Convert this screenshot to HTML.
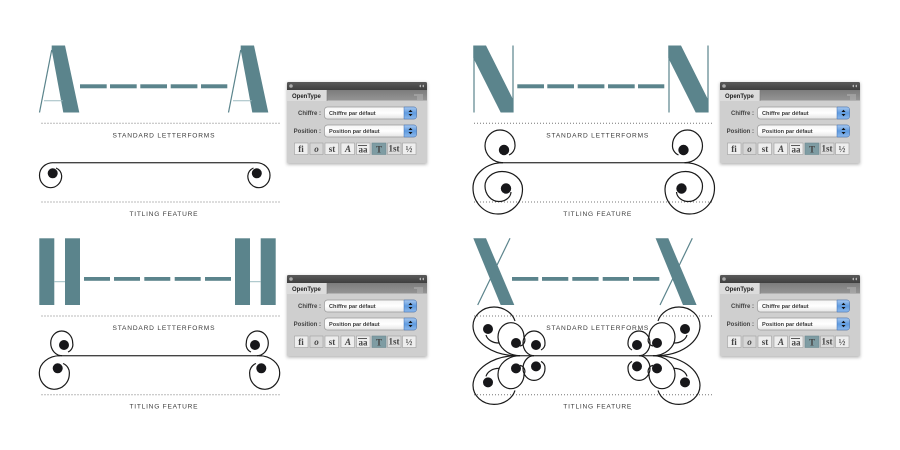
<!DOCTYPE html>
<html><head><meta charset="utf-8"><style>
html,body{margin:0;padding:0;background:#fff;width:900px;height:450px;overflow:hidden}
svg{display:block}
text{font-family:"Liberation Sans",sans-serif}
.cap{font-size:6.6px;fill:#3c3c3c;text-anchor:middle}
.lb{font-size:6px;font-weight:bold;fill:#444;text-anchor:end}
.sel{font-size:5.6px;font-weight:bold;fill:#3a3a3a}
.ic{font-family:"Liberation Serif",serif;font-size:9px;font-weight:bold;fill:#444;text-anchor:middle}
.lt{fill:#5b848c}
.th{stroke:#5b848c;stroke-width:1.2;fill:none}
.br{stroke:#9dbcc1;stroke-width:1;fill:none}
.dot{stroke:#777;stroke-width:1;stroke-dasharray:1 2;fill:none}
.s{stroke:#1a1a1a;stroke-width:1.2;fill:none}
.d{fill:#17171a}
.ln{stroke:#444;stroke-width:1.4;fill:none}
</style></head><body>
<svg width="900" height="450" viewBox="0 0 900 450" xmlns="http://www.w3.org/2000/svg">
<defs>
<linearGradient id="tb" x1="0" y1="0" x2="0" y2="1"><stop offset="0" stop-color="#5a5a5a"/><stop offset="1" stop-color="#3e3e3e"/></linearGradient>
<linearGradient id="tr" x1="0" y1="0" x2="0" y2="1"><stop offset="0" stop-color="#7c7c7c"/><stop offset="1" stop-color="#959595"/></linearGradient>
<linearGradient id="se" x1="0" y1="0" x2="0" y2="1"><stop offset="0" stop-color="#f4f4f4"/><stop offset=".5" stop-color="#fff"/><stop offset="1" stop-color="#e4e4e4"/></linearGradient>
<linearGradient id="bl" x1="0" y1="0" x2="0" y2="1"><stop offset="0" stop-color="#a9c8ee"/><stop offset=".5" stop-color="#5f9be0"/><stop offset="1" stop-color="#8db8ea"/></linearGradient>
<filter id="sh" x="-10%" y="-10%" width="120%" height="125%"><feGaussianBlur stdDeviation="1.5"/></filter>
<g id="chrome">
<rect x="287" y="83" width="140" height="81.500" fill="#555" opacity=".45" filter="url(#sh)"/>
<rect x="287" y="82" width="140" height="81" rx="1.500" fill="#cfcfcf"/>
<path d="M287 90V83.500Q287 82 288.500 82H425.500Q427 82 427 83.500V90Z" fill="url(#tb)"/>
<circle cx="291" cy="86" r="1.800" fill="#aaa"/>
<path d="M421 84.500l-2 1.500 2 1.500zM424 84.500l-2 1.500 2 1.500z" fill="#bbb"/>
<rect x="287" y="90" width="140" height="10.500" fill="url(#tr)"/>
<rect x="287" y="90" width="40" height="11" fill="#dcdcdc"/>
<path d="M327 90v11" stroke="#777" stroke-width=".6"/>
<path d="M414 95h9M417 97h6M417 99h6" stroke="#c4c4c4" stroke-width=".8"/>
<rect x="324.500" y="107" width="92" height="12" rx="3" fill="url(#se)" stroke="#9a9a9a" stroke-width=".7"/>
<path d="M404 107h10q2.500 0 2.500 3v6q0 3-2.500 3h-10z" fill="url(#bl)" stroke="#3d6fb5" stroke-width=".5"/>
<path d="M408.500 112l2-2.200 2 2.200zM408.500 114l2 2.200 2-2.200z" fill="#111"/>
<rect x="324.500" y="125" width="92" height="12" rx="3" fill="url(#se)" stroke="#9a9a9a" stroke-width=".7"/>
<path d="M404 125h10q2.500 0 2.500 3v6q0 3-2.500 3h-10z" fill="url(#bl)" stroke="#3d6fb5" stroke-width=".5"/>
<path d="M408.500 130l2-2.200 2 2.200zM408.500 132l2 2.200 2-2.200z" fill="#111"/>
<g fill="#eee" stroke="#a0a0a0" stroke-width=".6">
<rect x="294.500" y="143" width="13.500" height="11.500"/><rect x="310" y="143" width="13" height="11.500" fill="#d6d6d6"/><rect x="325" y="143" width="13.500" height="11.500"/><rect x="341" y="143" width="13.500" height="11.500"/><rect x="356.500" y="143" width="13.500" height="11.500"/><rect x="372" y="143" width="14" height="11.500" fill="#7e9ca3" stroke="#6d8b92"/><rect x="387.500" y="143" width="13.500" height="11.500" fill="#dcdcdc"/><rect x="402.500" y="143" width="13.500" height="11.500"/>
</g>
<path d="M358 145.500h9" stroke="#333" stroke-width=".8"/>
</g>
<g id="sA"><path class="s" d="M53,162.700A13.500,12.500 0 0 0 39.500,175.200A11.100,12.500 0 0 0 50.600,187.700A11.100,11.700 0 0 0 61.700,176A9,9 0 0 0 56,168"/><circle class="d" cx="52.700" cy="173.300" r="5"/></g>
<g id="sNt"><path class="s" d="M503,162.700A18,17 0 0 1 485,146A15,16 0 0 1 500,130A15,15 0 0 1 515,145A10,10 0 0 1 509,155"/><circle class="d" cx="504" cy="150" r="5.200"/></g>
<g id="sNb"><path class="s" d="M503,162.700A30,25.300 0 0 0 473,188A25,26 0 0 0 498,214A24.500,25 0 0 0 522.500,189A20.500,17.500 0 0 0 502,171.500A17,14.500 0 0 0 485,186A14,15.500 0 0 0 499,201.500A12,10 0 0 0 511,192"/><circle class="d" cx="506" cy="188.500" r="5.200"/></g>
<g id="sHt"><path class="s" d="M62,355.700A11.300,12.700 0 0 1 50.700,343A11,12 0 0 1 61.700,331A11,12 0 0 1 72.700,343A8,8 0 0 1 68,352"/><circle class="d" cx="64" cy="345" r="5"/></g>
<g id="sHb"><path class="s" d="M60,355.700A20.700,17 0 0 0 39.300,372.700A15,16.600 0 0 0 54,389.300A15.300,15.300 0 0 0 69.300,374A10,10 0 0 0 63,363.500"/><circle class="d" cx="57.700" cy="368.300" r="5"/></g>
<g id="sX">
<path class="s" d="M517,355.700A44,30 0 0 1 473,326A21,19 0 0 1 494,307A22,19 0 0 1 515,321"/>
<path class="s" d="M486,335A13,10 0 0 0 499,343"/><circle class="d" cx="488" cy="329" r="5"/>
<path class="s" d="M520,355.700A22,18.700 0 0 1 498,337A13,14.300 0 0 1 511,322.700A13,14.300 0 0 1 524,337A6,6 0 0 1 520,346"/><circle class="d" cx="516" cy="343" r="5"/>
<path class="s" d="M534,355.700A11,12.700 0 0 1 523,343A11,12 0 0 1 534,331A11,12 0 0 1 545,343A7,7 0 0 1 541,350"/><circle class="d" cx="536" cy="345" r="5"/>
</g>
<g id="LA"><path class="lt" d="M51.700,45.500H65L79.300,112.500H63.300L51.700,50Z"/><path class="th" d="M51.700,50L39.500,112.500"/><path class="br" d="M44,100.700H62.700"/></g>
<g id="LN"><path class="lt" d="M473.300,45.500H486L513.300,100V112.500H500.700L473.300,58Z"/><path class="th" d="M474,45.500V112.500M513,45.500V112.500" stroke-width="1.300"/></g>
<g id="LH"><rect class="lt" x="39.300" y="238.300" width="15" height="66.700"/><rect class="lt" x="65" y="238.300" width="15" height="66.700"/><path class="br" d="M54.300,281.700H65"/></g>
<g id="LX"><path class="lt" d="M473.300,238.300H486L514.300,305H500.700Z"/><path class="th" d="M510,238.300L477.700,305"/></g>
</defs>

<!-- A -->
<use href="#LA"/><use href="#LA" x="189"/>
<g class="lt"><rect x="80" y="84.300" width="26.700" height="4"/><rect x="110" y="84.300" width="26.700" height="4"/><rect x="140.300" y="84.300" width="26.700" height="4"/><rect x="170.700" y="84.300" width="26.700" height="4"/><rect x="201" y="84.300" width="26.300" height="4"/></g>
<path class="dot" d="M41.500,123.300H281M41.500,202H281"/>
<text class="cap" x="163.500" y="137.300" textLength="102" lengthAdjust="spacing">STANDARD LETTERFORMS</text>
<text class="cap" x="163.500" y="215.800" textLength="68" lengthAdjust="spacing">TITLING FEATURE</text>
<path class="ln" d="M53,162.700H256.500"/>
<use href="#sA"/><use href="#sA" transform="translate(309.500,0) scale(-1,1)"/>

<!-- N -->
<use href="#LN"/><use href="#LN" x="195"/>
<g class="lt"><rect x="517.300" y="84.300" width="26.700" height="4"/><rect x="547.300" y="84.300" width="26.700" height="4"/><rect x="577.700" y="84.300" width="26.700" height="4"/><rect x="608" y="84.300" width="26.700" height="4"/><rect x="638" y="84.300" width="26.300" height="4"/></g>
<path class="dot" d="M474,123.300H714M474,202H714"/>
<text class="cap" x="597.300" y="137.300" textLength="102" lengthAdjust="spacing">STANDARD LETTERFORMS</text>
<text class="cap" x="597.300" y="215.800" textLength="68" lengthAdjust="spacing">TITLING FEATURE</text>
<path class="ln" d="M500,162.700H690"/>
<use href="#sNt"/><use href="#sNt" transform="translate(1187.500,0) scale(-1,1)"/>
<use href="#sNb"/><use href="#sNb" transform="translate(1187.500,0) scale(-1,1)"/>

<!-- H -->
<use href="#LH"/><use href="#LH" x="195.700"/>
<g class="lt"><rect x="84" y="277" width="26" height="3.800"/><rect x="114" y="277" width="26" height="3.800"/><rect x="144.300" y="277" width="26" height="3.800"/><rect x="174.700" y="277" width="26" height="3.800"/><rect x="205" y="277" width="26" height="3.800"/></g>
<path class="dot" d="M41.500,316H281M41.500,394.700H281"/>
<text class="cap" x="163.500" y="330" textLength="102" lengthAdjust="spacing">STANDARD LETTERFORMS</text>
<text class="cap" x="163.500" y="408.600" textLength="68" lengthAdjust="spacing">TITLING FEATURE</text>
<path class="ln" d="M58.300,355.700H261.700"/>
<use href="#sHt"/><use href="#sHt" transform="translate(319,0) scale(-1,1)"/>
<use href="#sHb"/><use href="#sHb" transform="translate(319,0) scale(-1,1)"/>

<!-- X -->
<use href="#LX"/><use href="#LX" x="182.300"/>
<g class="lt"><rect x="512" y="277" width="26.300" height="3.800"/><rect x="542" y="277" width="26.300" height="3.800"/><rect x="572.300" y="277" width="26.300" height="3.800"/><rect x="602.700" y="277" width="26.300" height="3.800"/><rect x="633" y="277" width="26.300" height="3.800"/></g>
<path class="dot" d="M474,316H714M474,394.700H714"/>
<text class="cap" x="597.300" y="330" textLength="102" lengthAdjust="spacing">STANDARD LETTERFORMS</text>
<text class="cap" x="597.300" y="408.600" textLength="68" lengthAdjust="spacing">TITLING FEATURE</text>
<path class="ln" d="M510,355.700H663"/>
<use href="#sX"/><use href="#sX" transform="translate(1173,0) scale(-1,1)"/>
<use href="#sX" transform="translate(0,711.400) scale(1,-1)"/><use href="#sX" transform="translate(1173,711.400) scale(-1,-1)"/>

<!-- Panels -->
<g>
<use href="#chrome"/>
<text x="292" y="98" font-size="6" font-weight="bold" fill="#222">OpenType</text>
<text class="lb" x="321" y="115">Chiffre :</text><text class="lb" x="321" y="133">Position :</text>
<text class="sel" x="329" y="115">Chiffre par défaut</text><text class="sel" x="329" y="133">Position par défaut</text>
<text class="ic" x="301" y="152">fi</text><text class="ic" x="316.500" y="152" font-style="italic" fill="#777">o</text><text class="ic" x="332" y="152">st</text><text class="ic" x="348" y="152" font-style="italic">A</text><text class="ic" x="363" y="152.500" font-size="7.500">aa</text><text class="ic" x="379" y="152.500">T</text><text class="ic" x="394" y="151.500" font-size="6.500" fill="#888">1st</text><text class="ic" x="409" y="152">½</text>
</g>
<g transform="translate(433,0)">
<use href="#chrome"/>
<text x="292" y="98" font-size="6" font-weight="bold" fill="#222">OpenType</text>
<text class="lb" x="321" y="115">Chiffre :</text><text class="lb" x="321" y="133">Position :</text>
<text class="sel" x="329" y="115">Chiffre par défaut</text><text class="sel" x="329" y="133">Position par défaut</text>
<text class="ic" x="301" y="152">fi</text><text class="ic" x="316.500" y="152" font-style="italic" fill="#777">o</text><text class="ic" x="332" y="152">st</text><text class="ic" x="348" y="152" font-style="italic">A</text><text class="ic" x="363" y="152.500" font-size="7.500">aa</text><text class="ic" x="379" y="152.500">T</text><text class="ic" x="394" y="151.500" font-size="6.500" fill="#888">1st</text><text class="ic" x="409" y="152">½</text>
</g>
<g transform="translate(0,193)">
<use href="#chrome"/>
<text x="292" y="98" font-size="6" font-weight="bold" fill="#222">OpenType</text>
<text class="lb" x="321" y="115">Chiffre :</text><text class="lb" x="321" y="133">Position :</text>
<text class="sel" x="329" y="115">Chiffre par défaut</text><text class="sel" x="329" y="133">Position par défaut</text>
<text class="ic" x="301" y="152">fi</text><text class="ic" x="316.500" y="152" font-style="italic" fill="#777">o</text><text class="ic" x="332" y="152">st</text><text class="ic" x="348" y="152" font-style="italic">A</text><text class="ic" x="363" y="152.500" font-size="7.500">aa</text><text class="ic" x="379" y="152.500">T</text><text class="ic" x="394" y="151.500" font-size="6.500" fill="#888">1st</text><text class="ic" x="409" y="152">½</text>
</g>
<g transform="translate(433,193)">
<use href="#chrome"/>
<text x="292" y="98" font-size="6" font-weight="bold" fill="#222">OpenType</text>
<text class="lb" x="321" y="115">Chiffre :</text><text class="lb" x="321" y="133">Position :</text>
<text class="sel" x="329" y="115">Chiffre par défaut</text><text class="sel" x="329" y="133">Position par défaut</text>
<text class="ic" x="301" y="152">fi</text><text class="ic" x="316.500" y="152" font-style="italic" fill="#777">o</text><text class="ic" x="332" y="152">st</text><text class="ic" x="348" y="152" font-style="italic">A</text><text class="ic" x="363" y="152.500" font-size="7.500">aa</text><text class="ic" x="379" y="152.500">T</text><text class="ic" x="394" y="151.500" font-size="6.500" fill="#888">1st</text><text class="ic" x="409" y="152">½</text>
</g>
</svg>
</body></html>
